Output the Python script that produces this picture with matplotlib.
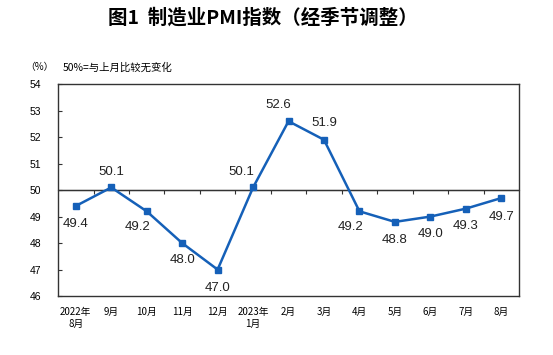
import matplotlib
matplotlib.use('Agg')
import matplotlib.pyplot as plt
import numpy as np

plt.rcParams['font.family'] = ['Liberation Sans', 'Noto Sans CJK SC', 'DejaVu Sans']

months = ['2022年\n8月', '9月', '10月', '11月', '12月', '2023年\n1月', '2月',
          '3月', '4月', '5月', '6月', '7月', '8月']
pmi = [49.4, 50.1, 49.2, 48.0, 47.0, 50.1, 52.6, 51.9, 49.2, 48.8, 49.0, 49.3, 49.7]
label_text = ['49.4', '50.1', '49.2', '48.0', '47.0', '50.1', '52.6', '51.9',
              '49.2', '48.8', '49.0', '49.3', '49.7']

# label offsets in pixels (dx, dy)
offsets = [(0, -18), (0, 15), (-9, -16), (0, -17), (0, -18), (-12, 15), (-10, 16),
           (0, 17), (-9, -16), (0, -18), (0, -17), (0, -17), (0, -19)]

fig = plt.figure(figsize=(5.53, 3.55), dpi=100)
ax = fig.add_axes([0.105, 0.166, 0.8335, 0.597])

x = np.arange(len(months))
ax.plot(x, pmi, color='#1560b8', lw=1.8, marker='s', ms=4.5, zorder=3)

for xi, v, t, (dx, dy) in zip(x, pmi, label_text, offsets):
    ax.annotate(t, (xi, v), xytext=(dx, dy), textcoords='offset pixels',
                ha='center', va='center', fontsize=9.5, color='#222222')

ax.set_xlim(-0.5, len(months) - 0.5)
ax.set_ylim(46, 54)
ax.set_yticks(range(46, 55))
ax.tick_params(axis='y', direction='in', length=3, labelsize=7.5, pad=12, color='#333333')
ax.set_xticks(x)
ax.set_xticklabels(months, fontsize=7, family=['Noto Sans CJK SC'], linespacing=1.2)
ax.tick_params(axis='x', length=0, pad=8)
for s in ax.spines.values():
    s.set_color('#333333')
    s.set_linewidth(1.0)

# 50 line with category-boundary ticks
ax.axhline(50, color='#333333', lw=1.0, zorder=2)
sec = ax.secondary_xaxis(0.5)
sec.set_xticks(np.arange(0.5, len(months) - 1, 1.0))
sec.tick_params(axis='x', direction='in', length=3, labelbottom=False, color='#333333')
sec.set_xticklabels([])
sec.spines['bottom'].set_visible(False)

fig.text(0.475, 0.95, '图1  制造业PMI指数（经季节调整）', ha='center', va='center',
         fontsize=14, fontweight='bold', family=['Noto Sans CJK SC'])
fig.text(0.072, 0.81, '（%）', ha='center', va='center', fontsize=7, family=['Noto Sans CJK SC'])
fig.text(0.114, 0.81, '50%=与上月比较无变化', ha='left', va='center', fontsize=7.5,
         family=['Noto Sans CJK SC'])

fig.savefig('out.png', dpi=100)
